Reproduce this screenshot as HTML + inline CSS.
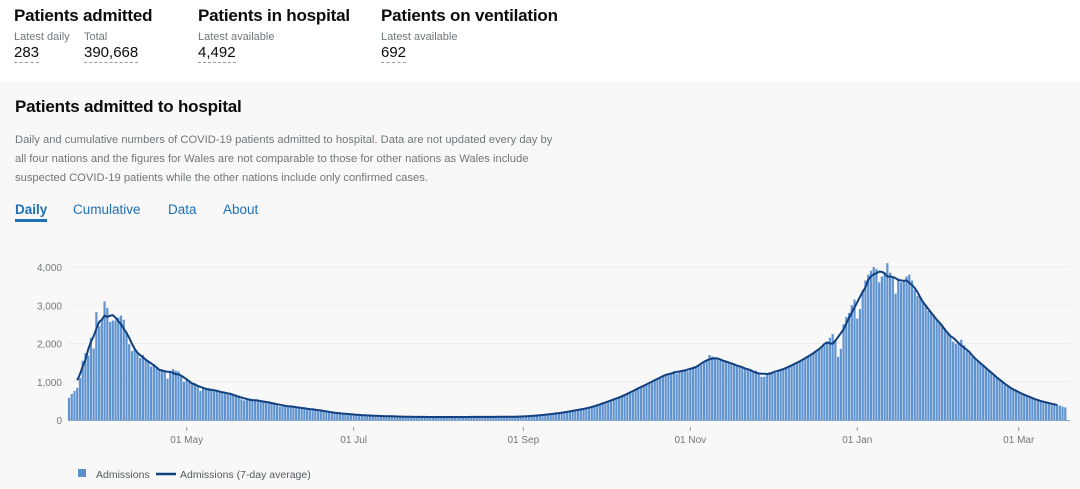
<!DOCTYPE html>
<html><head><meta charset="utf-8">
<style>
*{margin:0;padding:0;box-sizing:border-box}
body{width:1080px;height:489px;overflow:hidden;font-family:"Liberation Sans",sans-serif;background:#f8f8f8;color:#0b0c0c;position:relative}
#hdr{position:absolute;left:0;top:0;width:1080px;height:81px;background:#fff}
.hd{position:absolute;top:6px}
.hd h2{font-size:17px;font-weight:bold;letter-spacing:-0.2px;white-space:nowrap}
.sub{position:absolute;top:31px;font-size:11px;color:#6f777b;white-space:nowrap}
.val{position:absolute;top:44px;font-size:15px;white-space:nowrap;border-bottom:1px dashed #999;line-height:18px}
#title{position:absolute;left:15px;top:97px;font-size:17px;font-weight:bold;letter-spacing:-0.2px}
#desc{position:absolute;left:15px;top:131px;width:560px;font-size:11.2px;line-height:19px;color:#6f777b}
.tab{position:absolute;top:202px;font-size:13.5px;color:#1d70b8}
#tab-daily{font-weight:bold;border-bottom:3px solid #1d70b8;padding-bottom:2px}
svg{position:absolute;left:0;top:0}
</style></head><body>
<div id="hdr">
 <div class="hd" style="left:14px"><h2>Patients admitted</h2></div>
 <div class="sub" style="left:14px">Latest daily</div>
 <div class="val" style="left:14px">283</div>
 <div class="sub" style="left:84px">Total</div>
 <div class="val" style="left:84px">390,668</div>
 <div class="hd" style="left:198px"><h2>Patients in hospital</h2></div>
 <div class="sub" style="left:198px">Latest available</div>
 <div class="val" style="left:198px">4,492</div>
 <div class="hd" style="left:381px"><h2>Patients on ventilation</h2></div>
 <div class="sub" style="left:381px">Latest available</div>
 <div class="val" style="left:381px">692</div>
</div>
<div id="title">Patients admitted to hospital</div>
<div id="desc">Daily and cumulative numbers of COVID-19 patients admitted to hospital. Data are not updated every day by<br>all four nations and the figures for Wales are not comparable to those for other nations as Wales include<br>suspected COVID-19 patients while the other nations include only confirmed cases.</div>
<div class="tab" id="tab-daily" style="left:15px">Daily</div>
<div class="tab" style="left:73px">Cumulative</div>
<div class="tab" style="left:168px">Data</div>
<div class="tab" style="left:223px">About</div>
<svg id="chart" width="1080" height="489"></svg>
<script>
const startDate = "2020-03-19";
const admissions = [
580,680,760,840,1100,1550,1750,
1680,2150,1870,2820,2450,2620,3100,
2930,2560,2600,2600,2680,2730,2620,
2300,1980,1800,1850,1760,1620,1700,
1600,1540,1400,1460,1370,1300,1320,
1250,1080,1270,1330,1290,1270,1150,
1000,1050,1030,980,960,900,760,
820,800,840,810,780,760,740,
720,700,690,700,680,660,640,
540,510,520,560,540,530,500,
480,470,490,440,470,450,420,
360,380,380,340,370,350,330,
340,310,300,290,280,300,250,
270,260,240,220,210,200,190,
180,170,160,180,150,150,140,
140,130,120,130,125,115,110,
110,105,100,110,100,95,95,
95,90,90,95,85,80,85,
80,85,80,78,75,80,82,
80,78,75,80,82,78,75,
78,75,80,82,80,78,76,
80,78,82,85,80,78,80,
82,85,80,78,82,86,84,
85,88,90,85,88,92,100,
100,105,110,115,120,130,135,
145,155,165,170,180,190,200,
210,220,240,250,260,280,290,
300,320,330,360,380,410,430,
460,490,520,540,560,580,620,
640,680,720,760,800,830,860,
900,930,960,1000,1040,1080,1120,
1150,1180,1200,1240,1280,1210,1250,
1300,1320,1280,1340,1350,1380,1400,
1450,1500,1560,1700,1660,1640,1600,
1580,1560,1520,1500,1460,1480,1440,
1400,1380,1330,1340,1300,1250,1290,
1220,1130,1130,1200,1250,1260,1230,
1280,1300,1330,1350,1400,1420,1460,
1500,1540,1580,1600,1650,1700,1750,
1800,1850,1900,1950,2000,2150,2250,
2100,1650,1860,2500,2700,2800,3000,
3150,2650,2900,3400,3650,3800,3900,
4000,3950,3600,3750,3850,4100,3850,
3750,3300,3700,3600,3650,3750,3800,
3650,3400,3250,3200,3100,3000,2850,
2800,2750,2600,2550,2450,2400,2300,
2200,2050,2000,2000,2100,1950,1800,
1750,1650,1620,1550,1500,1440,1350,
1300,1220,1180,1100,1080,1000,920,
880,850,780,750,720,700,680,
620,600,560,540,520,490,470,
460,440,420,420,400,380,350,
330];
const yTicks = [0,1000,2000,3000,4000];
const yTickLabels = ["0","1,000","2,000","3,000","4,000"];
const xTickDates = ["2020-05-01","2020-07-01","2020-09-01","2020-11-01","2021-01-01","2021-03-01"];
const xTickLabels = ["01 May","01 Jul","01 Sep","01 Nov","01 Jan","01 Mar"];

const NS="http://www.w3.org/2000/svg";
const svg=document.getElementById('chart');
const X0=69, PX=2.737, Y0=420, PY=153/4000;
const day0=Date.parse(startDate);
function dayOf(s){return Math.round((Date.parse(s)-day0)/86400000);}
function x(d){return X0+d*PX;}
function y(v){return Y0-v*PY;}
function mk(t,a){const e=document.createElementNS(NS,t);for(const k in a)e.setAttribute(k,a[k]);svg.appendChild(e);return e;}

yTicks.forEach((v,i)=>{
 if(v>0){const g=mk('line',{x1:68,x2:1070,y1:y(v),y2:y(v),stroke:'#ececec','stroke-width':1});
 
 }
 const t=mk('text',{x:62,y:y(v)+4,'text-anchor':'end','font-size':'10','fill':'#6f777b','font-family':'Liberation Sans, sans-serif'});
 t.textContent=yTickLabels[i];
 
 
});
admissions.forEach((v,d)=>{
 const r=mk('rect',{x:x(d)-1.1,y:y(v),width:2.2,height:Y0-y(v),fill:'#5f93cf'});
 
 
});
const ax=mk('line',{x1:68,x2:1070,y1:Y0+0.5,y2:Y0+0.5,stroke:'#8aa5c8','stroke-width':1});


xTickDates.forEach((s,i)=>{
 const d=dayOf(s);
 const tk=mk('line',{x1:x(d),x2:x(d),y1:427,y2:431,stroke:'#999','stroke-width':1});
 
 
 const t=mk('text',{x:x(d),y:443,'text-anchor':'middle','font-size':'10','fill':'#6f777b','font-family':'Liberation Sans, sans-serif'});
 t.textContent=xTickLabels[i];
 
 
});
let pts=[];
for(let d=3;d<admissions.length-3;d++){
 let s=0;for(let k=-3;k<=3;k++)s+=admissions[d+k];
 pts.push(x(d).toFixed(1)+','+y(s/7).toFixed(1));
}
const ln=mk('polyline',{points:pts.join(' '),fill:'none',stroke:'#12407f','stroke-width':2,'stroke-linejoin':'round'});



const lg1=mk('rect',{x:78,y:469,width:8,height:8,fill:'#5b8fcd'});


const lt1=mk('text',{x:96,y:478,'font-size':'10.5','fill':'#505a5f','font-family':'Liberation Sans, sans-serif'});
lt1.textContent='Admissions';


const lg2=mk('line',{x1:156,x2:176,y1:474,y2:474,stroke:'#12407f','stroke-width':2.5});


const lt2=mk('text',{x:180,y:478,'font-size':'10.5','fill':'#505a5f','font-family':'Liberation Sans, sans-serif'});
lt2.textContent='Admissions (7-day average)';


</script>
</body></html>
